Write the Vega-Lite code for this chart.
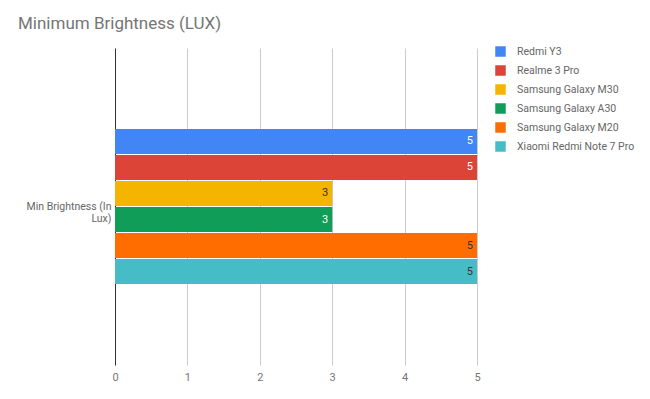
{
  "$schema": "https://vega.github.io/schema/vega-lite/v6.json",
  "width": 362,
  "height": 317,
  "autosize": {"type": "none"},
  "padding": {"left": 115, "top": 48, "right": 173, "bottom": 34},
  "background": "white",
  "config": {
    "font": "Roboto",
    "view": {"stroke": null}
  },
  "title": {
    "text": "Minimum Brightness (LUX)",
    "anchor": "start",
    "frame": "group",
    "dx": -97,
    "offset": 13,
    "fontSize": 17,
    "fontWeight": "normal",
    "font": "Roboto",
    "color": "#757575"
  },
  "data": {
    "values": [
      {"category": "Min Brightness (In Lux)", "phone": "Redmi Y3", "value": 5},
      {"category": "Min Brightness (In Lux)", "phone": "Realme 3 Pro", "value": 5},
      {"category": "Min Brightness (In Lux)", "phone": "Samsung Galaxy M30", "value": 3},
      {"category": "Min Brightness (In Lux)", "phone": "Samsung Galaxy A30", "value": 3},
      {"category": "Min Brightness (In Lux)", "phone": "Samsung Galaxy M20", "value": 5},
      {"category": "Min Brightness (In Lux)", "phone": "Xiaomi Redmi Note 7 Pro", "value": 5}
    ]
  },
  "encoding": {
    "y": {
      "field": "category",
      "type": "nominal",
      "title": null,
      "scale": {"paddingInner": 0, "paddingOuter": 0.5226},
      "axis": {
        "domainColor": "#333333",
        "domainWidth": 1,
        "ticks": false,
        "labelPadding": 4,
        "labelFontSize": 10.5,
        "labelColor": "#666666",
        "labelLimit": 200,
        "labelExpr": "datum.value == 'Min Brightness (In Lux)' ? ['Min Brightness (In', 'Lux)'] : datum.value"
      }
    },
    "yOffset": {
      "field": "phone",
      "type": "nominal",
      "sort": ["Redmi Y3", "Realme 3 Pro", "Samsung Galaxy M30", "Samsung Galaxy A30", "Samsung Galaxy M20", "Xiaomi Redmi Note 7 Pro"],
      "scale": {"paddingInner": 0.04, "paddingOuter": 0}
    },
    "x": {
      "field": "value",
      "type": "quantitative",
      "title": null,
      "scale": {"domain": [0, 5], "nice": false},
      "axis": {
        "values": [0, 1, 2, 3, 4, 5],
        "domain": false,
        "ticks": false,
        "grid": true,
        "gridColor": "#cccccc",
        "labelPadding": 6,
        "labelFontSize": 11,
        "labelColor": "#757575",
        "labelFlush": false
      }
    }
  },
  "layer": [
    {
      "mark": {"type": "bar"},
      "encoding": {
        "color": {
          "field": "phone",
          "type": "nominal",
          "sort": ["Redmi Y3", "Realme 3 Pro", "Samsung Galaxy M30", "Samsung Galaxy A30", "Samsung Galaxy M20", "Xiaomi Redmi Note 7 Pro"],
          "scale": {
            "domain": ["Redmi Y3", "Realme 3 Pro", "Samsung Galaxy M30", "Samsung Galaxy A30", "Samsung Galaxy M20", "Xiaomi Redmi Note 7 Pro"],
            "range": ["#4285F4", "#DB4437", "#F4B400", "#0F9D58", "#FF6D00", "#46BDC6"]
          },
          "legend": {
            "title": null,
            "orient": "none",
            "legendX": 380,
            "legendY": -2,
            "symbolType": "square",
            "symbolSize": 110,
            "symbolStrokeWidth": 0,
            "labelFontSize": 10.5,
            "labelColor": "#666666",
            "rowPadding": 8,
            "labelOffset": 11,
            "padding": 0,
            "labelLimit": 200
          }
        }
      }
    },
    {
      "mark": {"type": "text", "align": "right", "dx": -4, "fontSize": 11, "baseline": "middle"},
      "encoding": {
        "text": {"field": "value", "type": "quantitative"},
        "color": {
          "condition": {"test": "indexof(['Redmi Y3','Realme 3 Pro','Samsung Galaxy A30'], datum.phone) >= 0", "value": "white"},
          "value": "#333333"
        }
      }
    }
  ]
}
